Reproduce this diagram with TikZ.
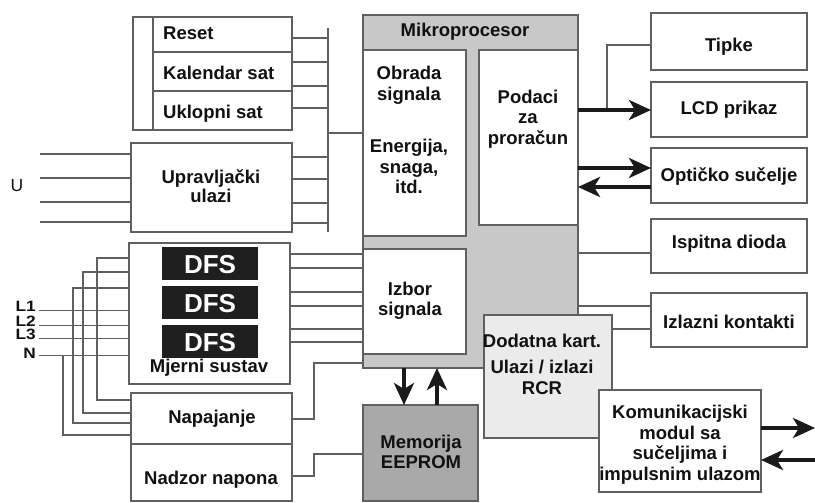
\documentclass[tikz,border=0pt]{standalone}
\usepackage{fontspec}
\setmainfont{Liberation Sans}
\newfontfamily\phasefont[FakeStretch=1.15]{Liberation Sans}
\usetikzlibrary{arrows.meta}
\definecolor{lc}{HTML}{606060}
\definecolor{mpgray}{HTML}{C8C8C8}
\definecolor{memgray}{HTML}{A9A9A9}
\definecolor{addgray}{HTML}{EBEBEB}
\definecolor{txtc}{HTML}{111111}
\definecolor{arrc}{HTML}{1A1A1A}
\tikzset{
  box/.style={draw=lc, line width=1.3pt, fill=white, inner sep=0pt, outer sep=0pt},
  wire/.style={draw=lc, line width=1.2pt},
  fat/.style={draw=arrc, line width=4pt, -{Stealth[length=22pt,width=20pt,inset=6pt]}},
  lbl/.style={font=\fontsize{18.5}{20}\selectfont\bfseries, text=txtc, inner sep=0pt, anchor=base},
  lblw/.style={lbl, anchor=base west},
  dfsbox/.style={fill=black!88, draw=none, inner sep=0pt},
  dfstxt/.style={font=\fontsize{26}{28}\selectfont\bfseries, text=white, inner sep=0pt, anchor=base},
  phase/.style={font=\phasefont\fontsize{15}{15}\selectfont\bfseries, text=txtc, inner sep=0pt, anchor=base east},
}
\newcommand\mybox[6][]{\node[box,#1,minimum width={(#5-#3)*1pt},minimum height={(#6-#4)*1pt}] (#2) at ({(#3+#5)/2},{(#4+#6)/2}) {};}
\begin{document}
\begin{tikzpicture}[x=1pt,y=-1pt]
\useasboundingbox (0,0) rectangle (815,503);

% ---------- Mikroprocesor ----------
\mybox[fill=mpgray]{mp}{363}{15}{578}{368}
\mybox{obr}{363}{50}{466}{236}
\mybox{pod}{479}{50}{578}{225}
\mybox{izb}{363}{249}{466}{354}
\node[lbl] (tmp) at (465,37) {Mikroprocesor};
\node[lbl] (tobr1) at (409,79.5) {Obrada};
\node[lbl] (tobr2) at (409,100) {signala};
\node[lbl] (tobr3) at (409,152.5) {Energija,};
\node[lbl] (tobr4) at (409,173) {snaga,};
\node[lbl] (tobr5) at (409,193.5) {itd.};
\node[lbl] (tpod1) at (528,103) {Podaci};
\node[lbl] (tpod2) at (528,124) {za};
\node[lbl] (tpod3) at (528,145) {proračun};
\node[lbl] (tizb1) at (410,295) {Izbor};
\node[lbl] (tizb2) at (410,315.5) {signala};

% ---------- Dodatna, Komunikacijski, Memorija ----------
\mybox[fill=addgray]{dod}{484}{315}{612}{438}
\node[lbl] (tdod1) at (542,347) {Dodatna kart.};
\node[lbl] (tdod2) at (542,373) {Ulazi / izlazi};
\node[lbl] (tdod3) at (542,394) {RCR};
\mybox{kom}{599}{390}{761}{492}
\node[lbl] (tkom1) at (680,418.5) {Komunikacijski};
\node[lbl] (tkom2) at (680,439) {modul sa};
\node[lbl] (tkom3) at (680,459.5) {sučeljima i};
\node[lbl] (tkom4) at (680,480) {impulsnim ulazom};
\mybox[fill=memgray]{mem}{363}{405}{478}{501}
\node[lbl] (tmem1) at (421,448) {Memorija};
\node[lbl] (tmem2) at (421,468) {EEPROM};

% ---------- right column ----------
\mybox{tip}{651}{13}{807}{70}
\node[lbl] (ttip) at (729,51.5) {Tipke};
\mybox{lcd}{651}{82}{807}{137}
\node[lbl] (tlcd) at (729,115) {LCD prikaz};
\mybox{opt}{651}{148}{807}{203}
\node[lbl] (topt) at (729,181.5) {Optičko sučelje};
\mybox{isp}{651}{219}{807}{273}
\node[lbl] (tisp) at (729,248.5) {Ispitna dioda};
\mybox{izl}{651}{293}{807}{347}
\node[lbl] (tizl) at (729,328.5) {Izlazni kontakti};

% ---------- left column ----------
\mybox{clk}{133}{17}{292}{130}
\mybox{reset}{153}{17}{292}{52}
\mybox{kal}{153}{52}{292}{91}
\mybox{ukl}{153}{91}{292}{130}
\node[lblw] (treset) at (163,39.5) {Reset};
\node[lblw] (tkal) at (163,80) {Kalendar sat};
\node[lblw] (tukl) at (163,119) {Uklopni sat};

\mybox{upr}{131}{143}{292}{232}
\node[lbl] (tupr1) at (211,183) {Upravljački};
\node[lbl] (tupr2) at (211,202) {ulazi};

\mybox{mjer}{129}{243}{290}{384}
\node[dfsbox, minimum width=96pt, minimum height=33pt] (dfs1) at (210,263.5) {};
\node[dfsbox, minimum width=96pt, minimum height=33pt] (dfs2) at (210,302.5) {};
\node[dfsbox, minimum width=96pt, minimum height=33pt] (dfs3) at (210,341.5) {};
\node[dfstxt] (tdfs1) at (210,273) {DFS};
\node[dfstxt] (tdfs2) at (210,312) {DFS};
\node[dfstxt] (tdfs3) at (210,351) {DFS};
\node[lbl] (tmjer) at (209,372) {Mjerni sustav};

\mybox{nap}{131}{393}{292}{444}
\mybox{nad}{131}{444}{292}{501}
\node[lbl] (tnap) at (212,423) {Napajanje};
\node[lbl] (tnad) at (211,484) {Nadzor napona};

% ---------- input labels ----------
\node[font=\fontsize{17.5}{17}\selectfont, text=txtc, inner sep=0pt, anchor=base] (tU) at (17,191) {U};
\node[phase] (tL1) at (36,311) {L1};
\node[phase] (tL2) at (36,326) {L2};
\node[phase] (tL3) at (36,339) {L3};
\node[phase] (tN) at (36,358) {N};

\coordinate (uin) at (40,0);
\coordinate (lin) at (39,0);
\coordinate (bustop) at (328,28);
\coordinate (busbot) at (328,232);

% ---------- wires ----------
% bus
\draw[wire] (bustop) -- (busbot);
\draw[wire] (bustop |- 0,133) -- (mp.west |- 0,133);
\foreach \yy in {38,62,86,108,157,179,203,223}
  \draw[wire] (clk.east |- 0,\yy) -- (bustop |- 0,\yy);
% U inputs
\foreach \yy in {154,178,202,222}
  \draw[wire] (uin |- 0,\yy) -- (upr.west |- 0,\yy);
% phase lines
\foreach \yy in {310.5,325.5,338.5,355.5}
  \draw[wire] (lin |- 0,\yy) -- (mjer.west |- 0,\yy);
% feeders to Napajanje
\draw[wire] (mjer.west |- 0,258) -- (97,258) -- (97,400) -- (nap.west |- 0,400);
\draw[wire] (mjer.west |- 0,272) -- (83,272) -- (83,413) -- (nap.west |- 0,413);
\draw[wire] (mjer.west |- 0,288) -- (73,288) -- (73,423) -- (nap.west |- 0,423);
\draw[wire] (63,355.5) -- (63,435) -- (nap.west |- 0,435);
% Mjerni -> Izbor
\foreach \yy in {254,268,292,306,329,342}
  \draw[wire] (mjer.east |- 0,\yy) -- (izb.west |- 0,\yy);
% Napajanje, Nadzor
\draw[wire] (nap.east |- 0,419) -- (314,419) -- (314,363) -- (mp.west |- 0,363);
\draw[wire] (nad.east |- 0,476) -- (314,476) -- (314,454) -- (mem.west |- 0,454);
% right side thin wires
\draw[wire] (tip.west |- 0,45) -- (607,45) -- (607,110);
\draw[wire] (mp.east |- 0,253) -- (isp.west |- 0,253);
\draw[wire] (mp.east |- 0,306) -- (izl.west |- 0,306);
\draw[wire] (dod.east |- 0,329) -- (izl.west |- 0,329);

% ---------- thick arrows ----------
\draw[fat] (pod.east |- 0,110) -- (lcd.west |- 0,110);
\draw[fat] (pod.east |- 0,168) -- (opt.west |- 0,168);
\draw[fat] (opt.west |- 0,187) -- (pod.east |- 0,187);
\draw[fat] (mp.south -| 404,0) -- (mem.north -| 404,0);
\draw[fat] (mem.north -| 437,0) -- (mp.south -| 437,0);
\coordinate (kout) at (815,428);
\coordinate (kin) at (815,460);
\draw[fat] (kom.east |- kout) -- (kout);
\draw[fat] (kin) -- (kom.east |- kin);
\end{tikzpicture}
\end{document}
